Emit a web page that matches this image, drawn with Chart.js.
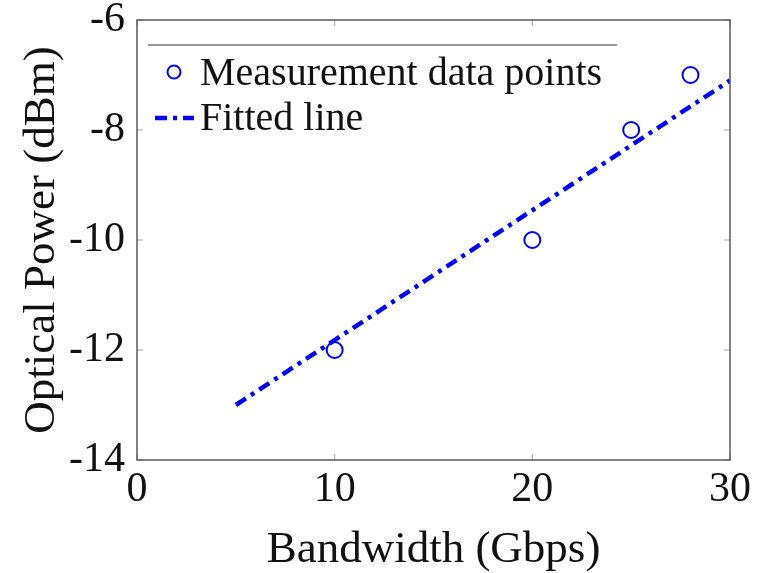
<!DOCTYPE html>
<html>
<head>
<meta charset="utf-8">
<script src="https://cdn.jsdelivr.net/npm/chart.js@4/dist/chart.umd.min.js"></script>
<style>
  html, body { margin: 0; padding: 0; background: #fff; }
  #wrap { width: 768px; height: 573px; }
</style>
</head>
<body>
<div id="wrap"><canvas id="c" width="768" height="573"></canvas></div>
<script>
// Measured optical power versus bandwidth
const bandwidthGbps = [10, 20, 25, 28];
const opticalPowerDbm = [-12, -10, -8, -7];

// Linear fit, drawn between its two end points
const fitBandwidth = [5, 30];
const fitPower = [-13, -7.1];

const xTicks = [0, 10, 20, 30];
const yTicks = [-14, -12, -10, -8, -6];

const FONT = '"Liberation Serif", "Times New Roman", serif';
const BLUE = '#0000ff';
const FRAME = '#5a5a5a';
const TEXT = '#111111';

// Inward tick marks and full box frame
const framePlugin = {
  id: 'frame',
  afterDraw(chart) {
    const { ctx, chartArea: a, scales } = chart;
    ctx.save();
    ctx.strokeStyle = '#a0a0a0';
    ctx.lineWidth = 1;
    const len = 6;
    scales.x.ticks.forEach(t => {
      const px = scales.x.getPixelForValue(t.value);
      ctx.beginPath();
      ctx.moveTo(px, a.bottom); ctx.lineTo(px, a.bottom - len);
      ctx.moveTo(px, a.top); ctx.lineTo(px, a.top + len);
      ctx.stroke();
    });
    scales.y.ticks.forEach(t => {
      const py = scales.y.getPixelForValue(t.value);
      ctx.beginPath();
      ctx.moveTo(a.left, py); ctx.lineTo(a.left + len, py);
      ctx.moveTo(a.right, py); ctx.lineTo(a.right - len, py);
      ctx.stroke();
    });
    ctx.strokeStyle = FRAME;
    ctx.lineWidth = 1.5;
    ctx.strokeRect(a.left, a.top, a.right - a.left, a.bottom - a.top);
    ctx.restore();
  }
};

// Legend drawn inside the plot area, with a rule above the entries
const insideLegend = {
  id: 'insideLegend',
  afterDraw(chart) {
    const { ctx, chartArea: a } = chart;
    const ds = chart.data.datasets;
    const x0 = a.left + 11;
    ctx.save();
    ctx.strokeStyle = '#333';
    ctx.lineWidth = 1.2;
    ctx.beginPath();
    ctx.moveTo(x0, a.top + 25);
    ctx.lineTo(x0 + 469, a.top + 25);
    ctx.stroke();

    ctx.font = '40px ' + FONT;
    ctx.fillStyle = TEXT;
    ctx.textBaseline = 'middle';
    ctx.textAlign = 'left';

    // scatter entry
    ctx.strokeStyle = ds[0].borderColor;
    ctx.lineWidth = 2;
    ctx.beginPath();
    ctx.arc(x0 + 26, a.top + 52, 6.5, 0, Math.PI * 2);
    ctx.stroke();
    ctx.fillText(ds[0].label, x0 + 52, a.top + 54);

    // fitted line entry
    ctx.strokeStyle = ds[1].borderColor;
    ctx.lineWidth = ds[1].borderWidth;
    ctx.setLineDash(ds[1].borderDash);
    ctx.beginPath();
    ctx.moveTo(x0 + 7, a.top + 98);
    ctx.lineTo(x0 + 46, a.top + 98);
    ctx.stroke();
    ctx.setLineDash([]);
    ctx.fillText(ds[1].label, x0 + 52, a.top + 99.5);
    ctx.restore();
  }
};

new Chart(document.getElementById('c'), {
  type: 'scatter',
  data: {
    datasets: [
      {
        label: 'Measurement data points',
        data: bandwidthGbps.map((x, i) => ({ x, y: opticalPowerDbm[i] })),
        showLine: false,
        pointRadius: 8,
        pointHoverRadius: 8,
        pointBorderWidth: 2,
        borderColor: BLUE,
        backgroundColor: 'rgba(0,0,0,0)',
        pointBackgroundColor: 'rgba(0,0,0,0)'
      },
      {
        label: 'Fitted line',
        data: fitBandwidth.map((x, i) => ({ x, y: fitPower[i] })),
        showLine: true,
        pointRadius: 0,
        borderColor: BLUE,
        borderWidth: 4.5,
        borderDash: [12, 6, 4, 6],
        fill: false
      }
    ]
  },
  options: {
    responsive: false,
    animation: false,
    layout: { padding: { top: 20, right: 38, left: 0, bottom: 0 } },
    plugins: { legend: { display: false }, tooltip: { enabled: false } },
    scales: {
      x: {
        type: 'linear',
        min: 0, max: 30,
        afterBuildTicks(s) { s.ticks = xTicks.map(v => ({ value: v })); },
        afterFit(s) { s.height = 113; s.paddingLeft = 0; s.paddingRight = 0; },
        grid: { display: false, drawTicks: false },
        border: { display: false },
        ticks: { color: TEXT, font: { family: FONT, size: 42 }, padding: 5, maxRotation: 0 },
        title: { display: true, text: 'Bandwidth (Gbps)', color: TEXT, font: { family: FONT, size: 45, lineHeight: 1 }, padding: { top: 0, bottom: 0 } }
      },
      y: {
        type: 'linear',
        min: -14, max: -6,
        afterBuildTicks(s) { s.ticks = yTicks.map(v => ({ value: v })); },
        afterFit(s) { s.width = 137; s.paddingTop = 0; s.paddingBottom = 0; },
        grid: { display: false, drawTicks: false },
        border: { display: false },
        ticks: { color: TEXT, font: { family: FONT, size: 42 }, padding: 12 },
        title: { display: true, text: 'Optical Power (dBm)', color: TEXT, font: { family: FONT, size: 45, lineHeight: 1 }, padding: { top: 20, bottom: 0 } }
      }
    }
  },
  plugins: [framePlugin, insideLegend]
});
</script>
</body>
</html>
